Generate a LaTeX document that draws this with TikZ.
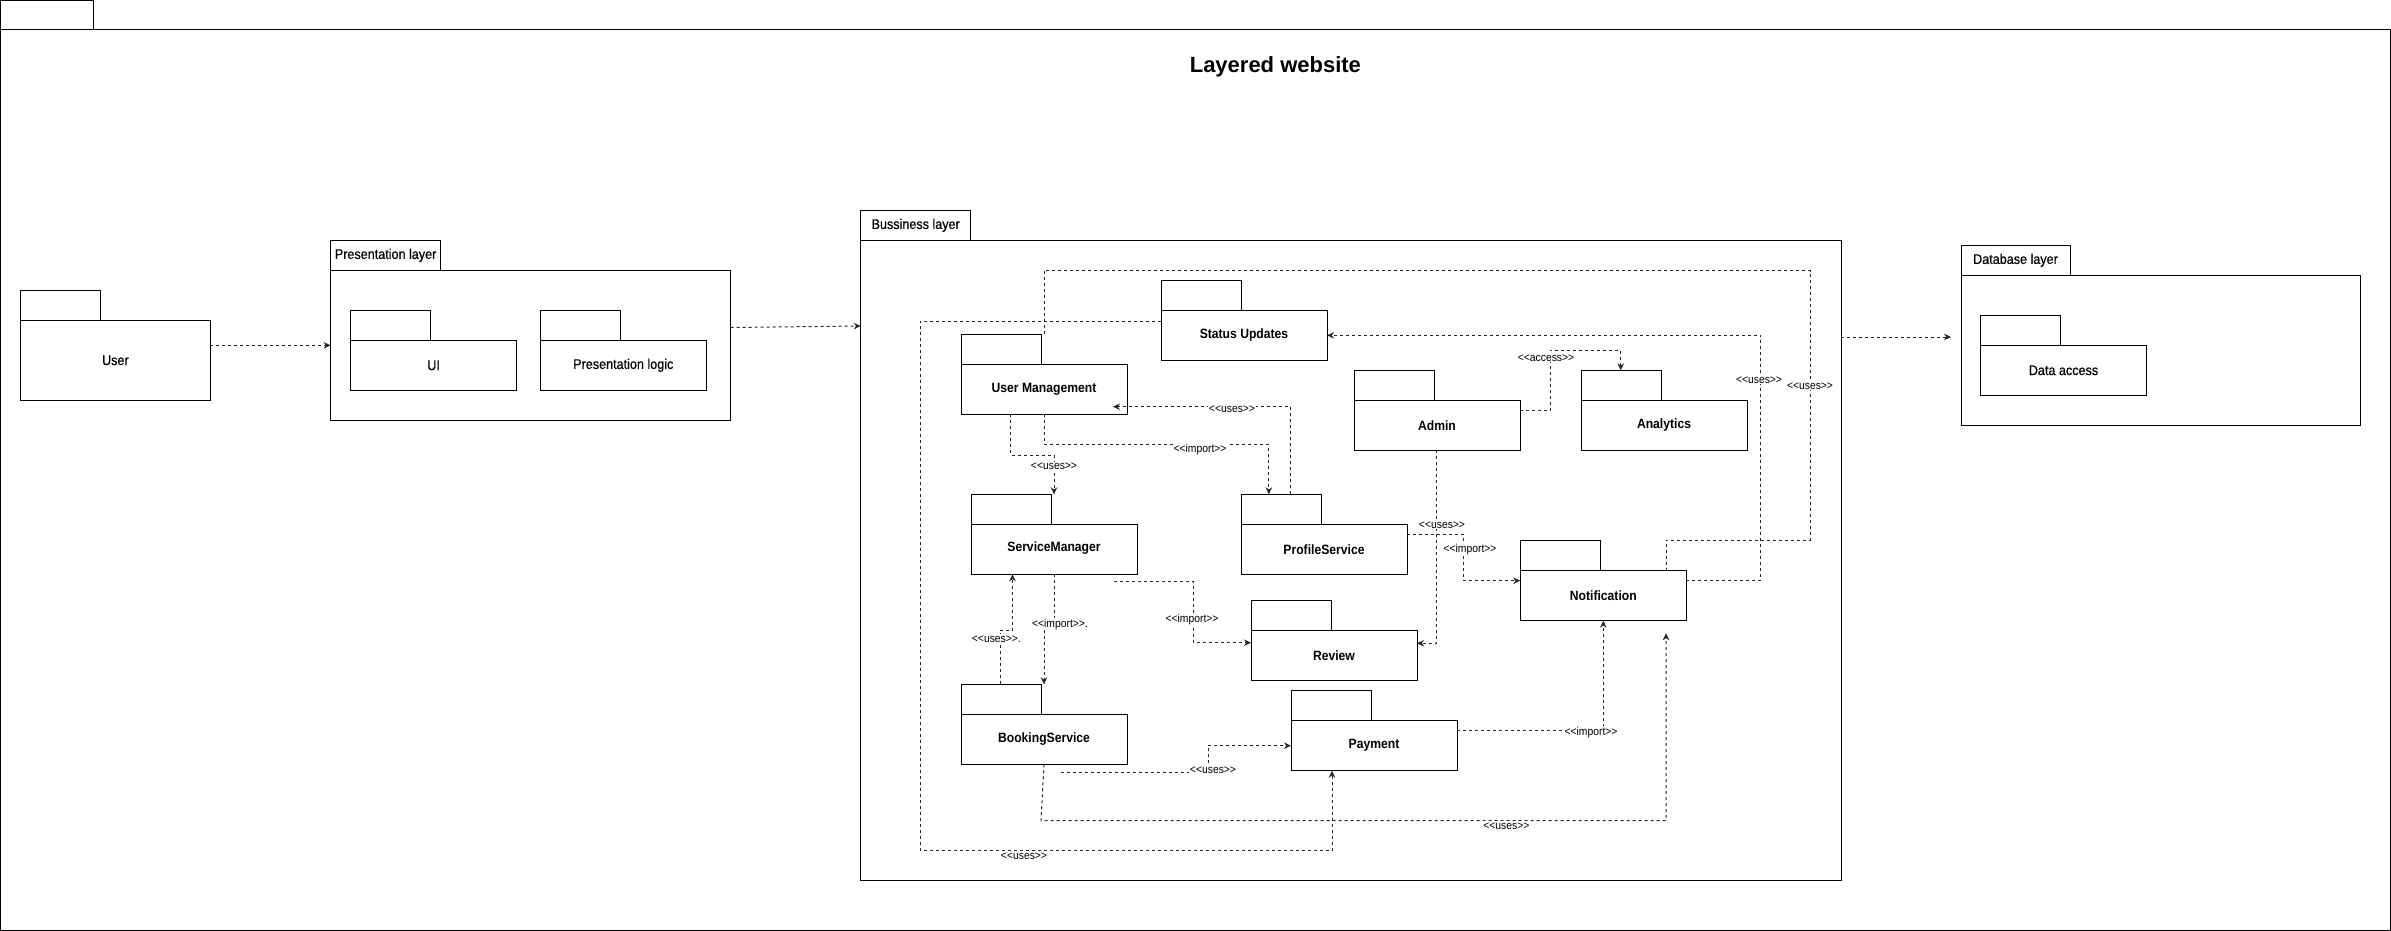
\documentclass[tikz,border=0pt]{standalone}
\usepackage{fontspec}
\setmainfont{Liberation Sans}[FakeStretch=0.9]
\newfontfamily\regfont{Liberation Sans}[FakeStretch=0.9,FakeBold=0.6]
\newfontfamily\titlefont{Liberation Sans}
\newfontfamily\lblfont{Liberation Sans}[FakeStretch=0.9,Ligatures=TeXOff]
\usetikzlibrary{arrows.meta}
\tikzset{
  pkgbody/.style={draw=black,line width=1pt,fill=white,inner sep=0pt,outer sep=0pt,anchor=north west,
    minimum width=166pt,minimum height=50pt,font=\fontsize{13.5}{16}\selectfont\bfseries},
  plainbody/.style={pkgbody,font=\regfont\fontsize{14}{16}\selectfont},
  pkgtab/.style={draw=black,line width=1pt,fill=white,inner sep=0pt,outer sep=0pt,anchor=south west,
    minimum width=80pt,minimum height=30pt,font=\regfont\fontsize{14}{16}\selectfont},
  link/.style={draw=black!85,line width=1pt,dash pattern=on 3pt off 3pt},
  dep/.style={link,-{Stealth[length=7pt,width=6.5pt]}},
  lbl/.style={fill=white,inner sep=0.8pt,font=\lblfont\fontsize{11.5}{13}\selectfont}
}
\begin{document}
\begin{tikzpicture}[x=1pt,y=-1pt]
\useasboundingbox (0,0) rectangle (2391,931);
% outer frame
\node[plainbody,minimum width=2389.5pt,minimum height=900pt] (outer) at (0.5,30) {};
\node[pkgtab,minimum width=92.5pt,minimum height=29.3pt] (outertab) at (outer.north west) {};
\node[font=\titlefont\fontsize{22}{26}\selectfont\bfseries,anchor=base] (title) at (1275.4,72.3) {Layered website};
% user
\node[plainbody,minimum width=190pt,minimum height=80pt] (user) at (20.4,320.3) {User};
\node[pkgtab] (usertab) at (user.north west) {};
% presentation layer
\node[plainbody,minimum width=400pt,minimum height=150pt] (pres) at (330.6,270.3) {};
\node[pkgtab,minimum width=110pt] (prestab) at (pres.north west) {Presentation layer};
\node[plainbody] (ui) at (350.6,340.3) {UI};
\node[pkgtab] (uitab) at (ui.north west) {};
\node[plainbody] (plogic) at (540.3,340.3) {Presentation logic};
\node[pkgtab] (plogictab) at (plogic.north west) {};
% business layer
\node[plainbody,minimum width=980.3pt,minimum height=640pt] (bus) at (860.7,240.3) {};
\node[pkgtab,minimum width=110pt] (bustab) at (bus.north west) {Bussiness layer};
% database layer
\node[plainbody,minimum width=399.5pt,minimum height=149.7pt] (db) at (1961,275.3) {};
\node[pkgtab,minimum width=109pt] (dbtab) at (db.north west) {Database layer};
\node[plainbody] (da) at (1980.5,345.3) {Data access};
\node[pkgtab] (datab) at (da.north west) {};
% business packages
\node[pkgbody] (su) at (1161,310.3) {Status Updates};
\node[pkgtab] (sutab) at (su.north west) {};
\node[pkgbody] (um) at (961,364.3) {User Management};
\node[pkgtab] (umtab) at (um.north west) {};
\node[pkgbody] (sm) at (971,524.3) {\raisebox{6pt}{ServiceManager}};
\node[pkgtab] (smtab) at (sm.north west) {};
\node[pkgbody] (ps) at (1241,524.3) {ProfileService};
\node[pkgtab] (pstab) at (ps.north west) {};
\node[pkgbody] (ad) at (1354,400.3) {Admin};
\node[pkgtab] (adtab) at (ad.north west) {};
\node[pkgbody] (an) at (1581,400.3) {Analytics};
\node[pkgtab] (antab) at (an.north west) {};
\node[pkgbody] (no) at (1520.3,570.7) {Notification};
\node[pkgtab] (notab) at (no.north west) {};
\node[pkgbody] (re) at (1251,630.3) {Review};
\node[pkgtab] (retab) at (re.north west) {};
\node[pkgbody] (bs) at (961,714.3) {BookingService};
\node[pkgtab] (bstab) at (bs.north west) {};
\node[pkgbody] (pa) at (1291,720.7) {Payment};
\node[pkgtab] (patab) at (pa.north west) {};
% free ends
\coordinate (dbin) at (1951,337);
\coordinate (c6end) at (1113,406.7);
\coordinate (c12s) at (1114,581.3);
\coordinate (c13s) at (1061.4,772.7);
\coordinate (c14e) at (1666,633.3);
% layer connectors
\draw[dep] (user.east |- 0,345.3) -- (pres.west |- 0,345.3);
\draw[dep] (pres.east |- 0,327.5) -- (bus.west |- 0,326);
\draw[dep] (bus.east |- 0,337) -- (dbin);
% business connectors
\draw[link] (um.north |- umtab.north) |- (1810.7,270.7) |- (1666,540) -- (1666,0 |- no.north);
\draw[dep] (su.west |- 0,321) -| (920.3,850.7) -| (1332,0 |- pa.south);
\draw[dep] (no.east |- 0,580.7) -| (1760.7,335.3) -- (su.east |- 0,335.3);
\draw[dep] (1010.7,0 |- um.south) |- (1054,455) -- (sm.north |- smtab.north);
\draw[dep] (um.south) |- (1268.8,444.3) -- (1268.8,0 |- pstab.north);
\draw[dep] (1290.2,0 |- pstab.north) |- (c6end);
\draw[dep] (ad.east |- 0,410.7) -| (1550.7,350) -| (1620.7,0 |- antab.north);
\draw[dep] (1436.8,0 |- ad.south) |- (re.east |- 0,643.3);
\draw[dep] (ps.east |- 0,534.3) -| (1463.6,580.7) -- (no.west |- 0,580.7);
\draw[dep] (sm.south) |- (bs.north |- 0,624) -- (bs.north |- bstab.north);
\draw[dep] (1000.3,0 |- bstab.north) |- (1012.5,630) -- (1012.5,0 |- sm.south);
\draw[dep] (c12s) -| (1193.8,642.7) -- (re.west |- 0,642.7);
\draw[dep] (c13s) -| (1208,745.7) -- (pa.west |- 0,745.7);
\draw[dep] (bs.south) -- (1041,820.7) -| (c14e);
\draw[dep] (pa.east |- 0,730.7) -| (no.south);
% labels
\node[lbl] (l1) at (1810,386) {<<uses>>};
\node[lbl] (l2) at (1024,856) {<<uses>>};
\node[lbl] (l3) at (1759,380) {<<uses>>};
\node[lbl] (l4) at (1054,466.7) {<<uses>>};
\node[lbl] (l5) at (1200,449.3) {<<import>>};
\node[lbl] (l6) at (1232,409) {<<uses>>};
\node[lbl] (l7) at (1546,358) {<<access>>};
\node[lbl] (l8) at (1442,525) {<<uses>>};
\node[lbl] (l9) at (1470,550) {<<import>>};
\node[lbl] (l10) at (1060,624.3) {<<import>>.};
\node[lbl] (l11) at (996.4,638.7) {<<uses>>.};
\node[lbl] (l12) at (1192,619.3) {<<import>>};
\node[lbl] (l13) at (1213,770) {<<uses>>};
\node[lbl] (l14) at (1506.4,825.7) {<<uses>>};
\node[lbl] (l15) at (1591,732.3) {<<import>>};
\end{tikzpicture}
\end{document}
